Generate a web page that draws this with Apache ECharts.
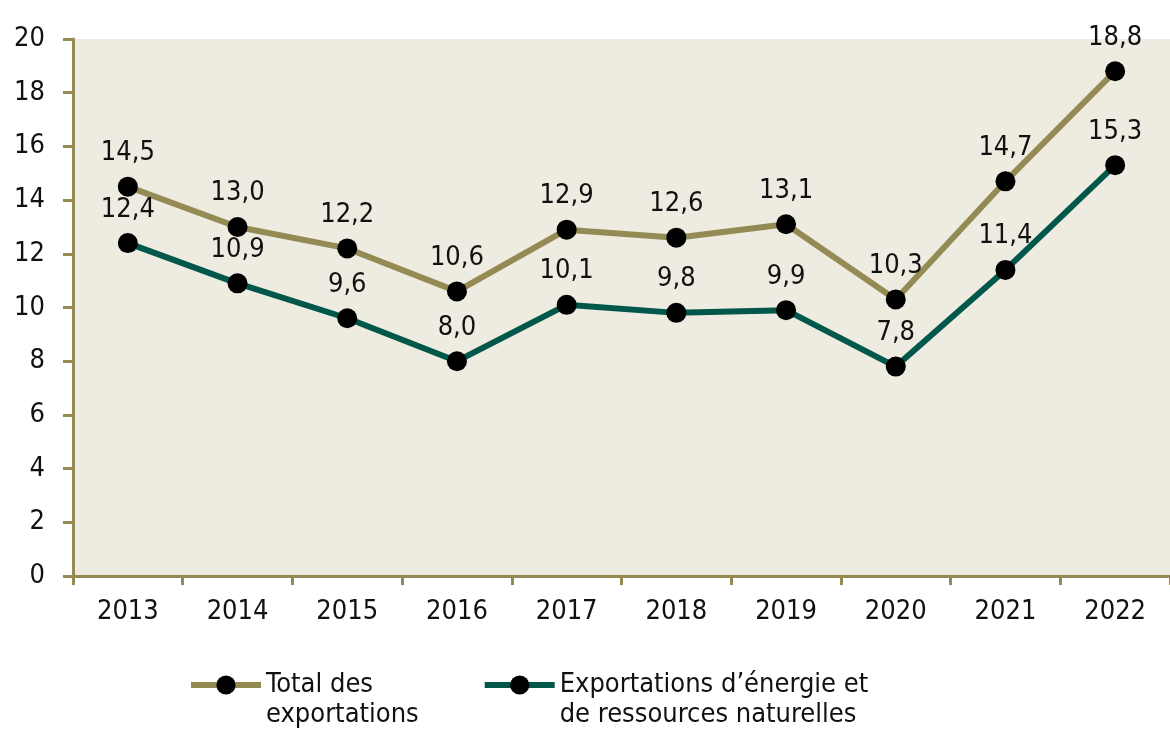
<!DOCTYPE html>
<html>
<head>
<meta charset="utf-8">
<script src="https://cdn.jsdelivr.net/npm/echarts@6/dist/echarts.min.js"></script>
<style>
  html, body { margin: 0; padding: 0; background: #fff; }
  #chart { width: 1170px; height: 730px; }
</style>
</head>
<body>
<div id="chart"></div>
<script>
  // 数据
  var years = ['2013', '2014', '2015', '2016', '2017', '2018', '2019', '2020', '2021', '2022'];
  var totalExports = [14.5, 13.0, 12.2, 10.6, 12.9, 12.6, 13.1, 10.3, 14.7, 18.8];
  var energyExports = [12.4, 10.9, 9.6, 8.0, 10.1, 9.8, 9.9, 7.8, 11.4, 15.3];
  var seriesNames = ['Total des\nexportations', 'Exportations d\u2019énergie et\nde ressources naturelles'];

  var font = '"Liberation Sans Narrow", "DejaVu Sans Condensed", "Liberation Sans", sans-serif';
  var olive = '#948a54';
  var green = '#00574a';

  var chart = echarts.init(document.getElementById('chart'));

  function fmt(p) {
    return p.value.toFixed(1).replace('.', ',');
  }

  function makeSeries(name, data, color) {
    return {
      name: name,
      type: 'line',
      data: data,
      symbol: 'circle',
      symbolSize: 20,
      itemStyle: { color: '#000' },
      lineStyle: { color: color, width: 6 },
      label: {
        show: true,
        position: 'top',
        distance: 10,
        formatter: fmt,
        fontFamily: font,
        fontSize: 27,
        color: '#111'
      },
      emphasis: { disabled: true }
    };
  }

  var option = {
    animation: false,
    grid: {
      left: 73,
      top: 39,
      bottom: 154,
      width: 1104,
      show: true,
      backgroundColor: '#eeebe0',
      borderWidth: 0
    },
    legend: {
      bottom: 0,
      left: 188,
      padding: 0,
      itemWidth: 70,
      itemHeight: 24,
      itemGap: 63,
      data: seriesNames,
      // 空行让图标与第一行文字对齐
      formatter: function (name) { return '\n' + name; },
      lineStyle: { width: 6 },
      textStyle: {
        fontFamily: font,
        fontSize: 27,
        lineHeight: 30,
        color: '#111'
      }
    },
    xAxis: {
      type: 'category',
      data: years,
      boundaryGap: true,
      axisLine: { lineStyle: { color: olive, width: 3 } },
      axisTick: { show: true, length: 9, lineStyle: { color: olive, width: 3 } },
      axisLabel: { fontFamily: font, fontSize: 27, color: '#111', margin: 22 }
    },
    yAxis: {
      type: 'value',
      min: 0,
      max: 20,
      interval: 2,
      axisLine: { show: true, lineStyle: { color: olive, width: 3 } },
      axisTick: { show: true, length: 10, lineStyle: { color: olive, width: 3 } },
      splitLine: { show: false },
      axisLabel: { fontFamily: font, fontSize: 27, color: '#111', margin: 28 }
    },
    series: [
      makeSeries(seriesNames[0], totalExports, olive),
      makeSeries(seriesNames[1], energyExports, green)
    ]
  };

  chart.setOption(option);
</script>
</body>
</html>
